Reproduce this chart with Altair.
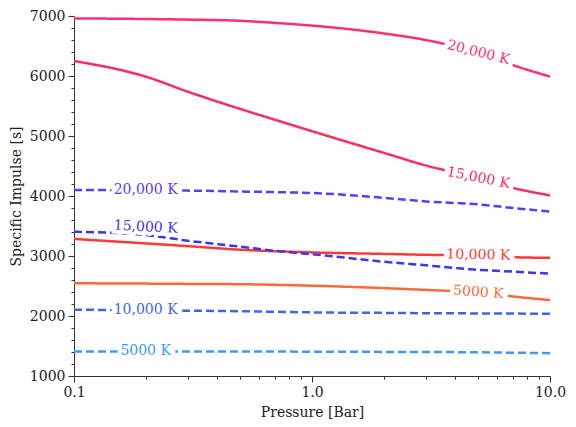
import altair as alt
import pandas as pd

# Pressure grid [Bar]
pressure = [0.1, 0.2, 0.3, 0.5, 0.7, 1.0, 2.0, 3.0, 5.0, 7.0, 10.0]

# Solid curves
solid_20000 = [6960, 6950, 6940, 6920, 6885, 6840, 6710, 6600, 6390, 6180, 5990]
solid_15000 = [6250, 5990, 5740, 5450, 5270, 5080, 4720, 4510, 4300, 4135, 4010]
solid_10000 = [3285, 3210, 3165, 3105, 3080, 3060, 3035, 3020, 3010, 2980, 2970]
solid_5000 = [2545, 2540, 2535, 2530, 2520, 2505, 2465, 2435, 2392, 2325, 2265]

# Dashed curves
dashed_20000 = [4100, 4095, 4090, 4075, 4065, 4050, 3970, 3910, 3860, 3800, 3740]
dashed_15000 = [3405, 3350, 3255, 3155, 3085, 3030, 2905, 2845, 2770, 2740, 2705]
dashed_10000 = [2105, 2095, 2088, 2080, 2070, 2060, 2052, 2047, 2043, 2040, 2038]
dashed_5000 = [1410, 1410, 1410, 1408, 1407, 1405, 1402, 1400, 1395, 1388, 1380]

series_keys = ["s20000", "s15000", "s10000", "s5000", "d20000", "d15000", "d10000", "d5000"]
series_values = [solid_20000, solid_15000, solid_10000, solid_5000,
                 dashed_20000, dashed_15000, dashed_10000, dashed_5000]
series_style = ["solid"] * 4 + ["dashed"] * 4
series_colors = ["#ff2e78", "#ff2b58", "#ff3838", "#ff683a",
                 "#5b3bff", "#3a36f0", "#3b66f0", "#3a9af5"]

# Inline labels
label_text = ["20,000 K", "15,000 K", "10,000 K", "5000 K",
              "20,000 K", "15,000 K", "10,000 K", "5000 K"]
label_pressure = [5.0, 5.0, 5.0, 5.0, 0.2, 0.2, 0.2, 0.2]
label_value = [6390, 4300, 3015, 2394, 4100, 3480, 2100, 1415]
label_angle = [14, 11, 1, 4, 0, 3, 0, 0]

rows = []
for key, vals, sty in zip(series_keys, series_values, series_style):
    for p, v in zip(pressure, vals):
        rows.append({"series": key, "style": sty, "pressure": p, "isp": v})
df = pd.DataFrame(rows)

lab = pd.DataFrame({
    "series": series_keys,
    "text": label_text,
    "pressure": label_pressure,
    "isp": label_value,
    "angle": label_angle,
})

FONT = "DejaVu Serif"
x_major = "datum.value == 0.1 || datum.value == 1 || datum.value == 10"
x_minor_vals = [0.1, 0.2, 0.3, 0.4, 0.5, 0.6, 0.7, 0.8, 0.9,
                1, 2, 3, 4, 5, 6, 7, 8, 9, 10]
y_vals = list(range(1000, 7001, 200))
y_major = "datum.value % 1000 == 0"

x_scale = alt.Scale(type="log", domain=[0.1, 10], nice=False)
y_scale = alt.Scale(domain=[1000, 7000], nice=False)

common = dict(
    labelOverlap=False, labelFlush=False, grid=False,
    labelFont=FONT, labelFontSize=14, titleFont=FONT, titleFontSize=14,
    titleFontWeight="normal", labelColor="#222", titleColor="#222",
    domainColor="#333", tickColor="#333", labelPadding=3, titlePadding=6,
)
x_axis = alt.Axis(
    title="Pressure [Bar]", values=x_minor_vals,
    labelExpr=f"({x_major}) ? format(datum.value, '.1f') : ''",
    tickSize={"condition": {"test": x_major, "value": 6}, "value": 3},
    **common,
)
y_axis = alt.Axis(
    title="Specific Impulse [s]", values=y_vals,
    labelExpr=f"({y_major}) ? format(datum.value, 'd') : ''",
    tickSize={"condition": {"test": y_major, "value": 6}, "value": 3},
    **common,
)

x_enc = alt.X("pressure:Q", scale=x_scale, axis=x_axis)
y_enc = alt.Y("isp:Q", scale=y_scale, axis=y_axis)

color = alt.Color("series:N", scale=alt.Scale(domain=series_keys, range=series_colors), legend=None)

lines = alt.Chart(df).mark_line(strokeWidth=2.5, interpolate="monotone").encode(
    x=x_enc, y=y_enc, color=color,
    strokeDash=alt.StrokeDash("style:N",
                              scale=alt.Scale(domain=["solid", "dashed"], range=[[1, 0], [8, 4]]),
                              legend=None),
    detail="series:N",
)

halo = alt.Chart(lab).mark_text(font=FONT, fontSize=14, stroke="white", strokeWidth=8,
                                fill="white", baseline="middle", align="center").encode(
    x=x_enc, y=y_enc, text="text:N", angle=alt.Angle("angle:Q", scale=None),
)
texts = alt.Chart(lab).mark_text(font=FONT, fontSize=14, baseline="middle", align="center").encode(
    x=x_enc, y=y_enc, text="text:N", color=color, angle=alt.Angle("angle:Q", scale=None),
)

chart = alt.layer(lines, halo, texts).properties(
    width=476, height=360,
    autosize=alt.AutoSizeParams(type="none"),
    padding={"left": 66, "top": 8, "right": 18, "bottom": 43},
).configure_view(stroke=None)

chart.save("out.html", embed_options={"renderer": "svg", "actions": False})
